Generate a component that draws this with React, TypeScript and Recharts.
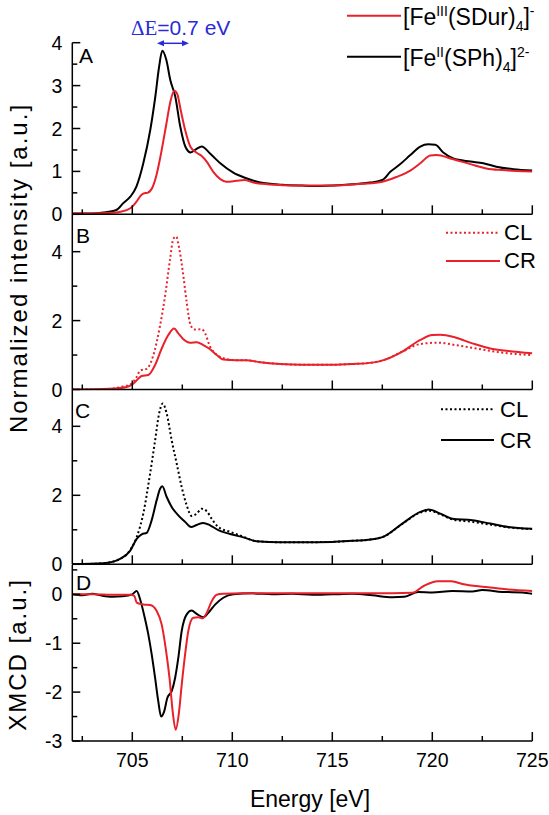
import React from 'react';
import { LineChart, Line, XAxis, YAxis } from 'recharts';

const W = 549;
const H = 815;
const FONT = '"Liberation Sans", Arial, Helvetica, sans-serif';
const RED = '#e8212b';
const BLUE = '#2a2ad8';
const PLOT_RIGHT = 532.3;
const PLOT_LEFT = 72.3;
const XAXIS_H = 30;

// ---- shared x ticks (eV) ----
const xTicks = [702.5, 705, 707.5, 710, 712.5, 715, 717.5, 720, 722.5, 725];

// ---- Panel A: [Fe(III)(SDur)4]- (red) and [Fe(II)(SPh)4]2- (black) ----
const aRedE = [702, 703, 703.8, 704.4, 704.9, 705.2, 705.45, 705.6, 705.75, 706.0, 706.2, 706.45, 706.7, 706.9, 707.1, 707.25, 707.42, 707.64, 707.9, 708.2, 708.47, 708.72, 709.05, 709.4, 709.7, 710.2, 710.6, 711.05, 711.5, 712.5, 713.5, 714.5, 715.5, 716.5, 717.5, 718.2, 718.9, 719.4, 719.9, 720.2, 721.0, 721.9, 722.7, 723.5, 724.2, 725];
const aRedV = [0.02, 0.02, 0.03, 0.06, 0.14, 0.29, 0.45, 0.49, 0.50, 0.62, 0.90, 1.45, 2.10, 2.62, 2.88, 2.80, 2.43, 1.97, 1.58, 1.44, 1.36, 1.23, 0.99, 0.82, 0.76, 0.78, 0.80, 0.74, 0.71, 0.68, 0.67, 0.67, 0.68, 0.71, 0.76, 0.87, 1.02, 1.19, 1.37, 1.38, 1.29, 1.17, 1.07, 1.03, 1.01, 1.00];
const aBlackE = [702, 703, 703.55, 704.2, 704.55, 704.9, 705.2, 705.55, 705.9, 706.15, 706.34, 706.5, 706.7, 706.9, 707.15, 707.4, 707.65, 707.92, 708.2, 708.47, 708.9, 709.4, 710.05, 710.7, 711.4, 712.5, 713.5, 714.4, 716.0, 716.9, 717.5, 717.9, 718.4, 718.9, 719.4, 719.8, 720.15, 720.55, 721.05, 721.9, 722.55, 723.2, 724.05, 725];
const aBlackV = [0.02, 0.02, 0.04, 0.10, 0.26, 0.41, 0.64, 1.19, 1.97, 2.74, 3.44, 3.81, 3.60, 3.13, 2.74, 2.04, 1.58, 1.44, 1.52, 1.58, 1.41, 1.19, 0.97, 0.84, 0.74, 0.69, 0.67, 0.66, 0.70, 0.74, 0.80, 0.99, 1.17, 1.38, 1.58, 1.63, 1.62, 1.44, 1.30, 1.23, 1.19, 1.11, 1.05, 1.02];

// ---- Panel B: Fe(III) CL (dotted) / CR (solid) ----
const bClE = [702, 703.9, 704.4, 704.97, 705.2, 705.4, 705.72, 706.05, 706.39, 706.64, 706.89, 707.05, 707.19, 707.35, 707.55, 707.72, 707.92, 708.14, 708.47, 708.64, 708.89, 709.14, 709.55, 710.2, 710.7, 711.4, 712.4, 713.5, 715.0, 716.0, 717.0, 717.6, 718.5, 719.4, 720.3, 721.15, 722.0, 722.9, 723.8, 725];
const bClV = [0.0, 0.02, 0.07, 0.17, 0.35, 0.55, 0.60, 0.99, 1.86, 2.72, 3.79, 4.37, 4.44, 4.08, 3.31, 2.53, 1.86, 1.74, 1.75, 1.63, 1.24, 1.05, 0.91, 0.85, 0.85, 0.79, 0.74, 0.72, 0.72, 0.74, 0.78, 0.86, 1.10, 1.32, 1.36, 1.29, 1.21, 1.12, 1.05, 1.00];
const bCrE = [702, 703.9, 704.72, 705.05, 705.47, 705.8, 706.14, 706.47, 706.8, 707.09, 707.3, 707.55, 707.89, 708.22, 708.55, 708.89, 709.22, 709.55, 710.2, 710.7, 711.4, 712.4, 713.5, 715.0, 716.0, 717.0, 717.6, 718.5, 719.4, 720.0, 720.4, 721.15, 722.0, 722.9, 723.8, 725];
const bCrV = [0.0, 0.02, 0.07, 0.17, 0.39, 0.42, 0.71, 1.19, 1.58, 1.77, 1.63, 1.46, 1.36, 1.37, 1.29, 1.17, 1.00, 0.87, 0.85, 0.85, 0.79, 0.74, 0.72, 0.72, 0.74, 0.78, 0.86, 1.10, 1.44, 1.58, 1.59, 1.51, 1.34, 1.19, 1.12, 1.05];

// ---- Panel C: Fe(II) CL (dotted) / CR (solid) ----
const cClE = [702, 703.55, 704.39, 704.89, 705.22, 705.55, 705.89, 706.14, 706.34, 706.52, 706.72, 706.97, 707.22, 707.47, 707.72, 707.97, 708.22, 708.47, 708.72, 708.97, 709.3, 709.89, 710.55, 711.2, 712.4, 713.5, 715.0, 716.0, 716.8, 717.6, 718.5, 719.4, 719.85, 720.4, 721.0, 722.0, 722.9, 723.8, 725];
const cClV = [0.0, 0.03, 0.16, 0.41, 0.79, 1.47, 2.63, 3.59, 4.37, 4.66, 4.37, 3.59, 2.92, 2.24, 1.71, 1.40, 1.47, 1.61, 1.54, 1.32, 1.08, 0.94, 0.80, 0.67, 0.64, 0.64, 0.65, 0.68, 0.71, 0.81, 1.17, 1.50, 1.55, 1.45, 1.30, 1.23, 1.15, 1.07, 1.02];
const cCrE = [702, 703.55, 704.39, 704.89, 705.22, 705.47, 705.72, 705.97, 706.22, 706.39, 706.5, 706.72, 706.97, 707.3, 707.64, 707.94, 708.22, 708.55, 708.89, 709.3, 709.89, 710.55, 711.2, 712.4, 713.5, 715.0, 716.0, 716.8, 717.6, 718.5, 719.4, 719.83, 720.4, 721.0, 722.0, 722.9, 723.8, 725];
const cCrV = [0.0, 0.03, 0.16, 0.39, 0.74, 0.87, 0.91, 1.28, 1.86, 2.19, 2.26, 1.95, 1.66, 1.42, 1.23, 1.08, 1.14, 1.20, 1.13, 0.99, 0.88, 0.78, 0.67, 0.64, 0.64, 0.65, 0.68, 0.71, 0.81, 1.18, 1.52, 1.59, 1.47, 1.32, 1.28, 1.18, 1.08, 1.03];

// ---- Panel D: XMCD ----
const dRedE = [702, 703, 704, 704.9, 705.1, 705.22, 705.55, 705.89, 706.22, 706.47, 706.69, 706.86, 707.02, 707.17, 707.32, 707.47, 707.64, 707.8, 708.05, 708.3, 708.52, 708.72, 708.97, 709.22, 709.55, 710.5, 712, 714, 716, 718, 719, 719.57, 720.27, 720.97, 721.5, 722.65, 723.8, 725];
const dRedV = [0.0, 0.0, -0.01, -0.01, -0.03, -0.17, -0.21, -0.22, -0.34, -0.62, -1.16, -1.71, -2.40, -2.77, -2.46, -1.85, -1.23, -0.75, -0.48, -0.47, -0.49, -0.38, -0.14, -0.01, 0.01, 0.02, 0.02, 0.02, 0.02, 0.02, 0.03, 0.17, 0.27, 0.27, 0.21, 0.15, 0.10, 0.07];
const dBlackE = [702, 702.5, 703, 703.5, 704, 704.5, 705.0, 705.22, 705.39, 705.64, 705.8, 705.97, 706.14, 706.3, 706.44, 706.59, 706.75, 706.97, 707.14, 707.3, 707.47, 707.72, 707.97, 708.22, 708.55, 708.8, 709.14, 709.55, 710.05, 711, 712, 713, 714, 715, 716, 717, 718, 718.6, 719.3, 720, 721, 722, 722.5, 723.5, 724.5, 725];
const dBlackV = [0.0, -0.02, 0.01, -0.03, -0.05, -0.04, 0.0, 0.07, -0.10, -0.51, -0.82, -1.23, -1.71, -2.19, -2.50, -2.40, -2.12, -1.98, -1.71, -1.30, -0.75, -0.41, -0.33, -0.40, -0.47, -0.38, -0.21, -0.07, 0.0, 0.02, 0.0, 0.01, -0.01, 0.0, 0.01, -0.02, -0.06, -0.05, 0.05, 0.04, 0.07, 0.06, 0.09, 0.05, 0.04, 0.01];

type Series = { key: string; e: number[]; v: number[]; color: string; dash?: string };

function buildRows(series: Series[]) {
  const map = new Map<number, any>();
  series.forEach((s) => {
    s.e.forEach((e, i) => {
      const row = map.get(e) || { e };
      row[s.key] = s.v[i];
      map.set(e, row);
    });
  });
  return Array.from(map.values()).sort((a, b) => a.e - b.e);
}

const XTick = (props: any) => {
  const { x, y, payload, showLabel } = props;
  const v = payload.value;
  const major = Math.abs(v % 5) < 1e-6;
  return (
    <g>
      <line x1={x} x2={x} y1={y} y2={y - (major ? 9 : 5)} stroke="#000" strokeWidth={1.5} />
      {showLabel && major ? (
        <text x={x} y={y + 25.7} textAnchor="middle" fontSize={19.5} fontFamily={FONT} fill="#000">
          {v}
        </text>
      ) : null}
    </g>
  );
};

const YTick = (props: any) => {
  const { x, y, payload, labels } = props;
  const v = payload.value;
  const major = labels.includes(v);
  return (
    <g>
      <line x1={x} x2={x + (major ? 8 : 5)} y1={y} y2={y} stroke="#000" strokeWidth={1.5} />
      {major ? (
        <text x={x - 10} y={y} dy="0.36em" textAnchor="end" fontSize={19.5} fontFamily={FONT} fill="#000">
          {String(v)}
        </text>
      ) : null}
    </g>
  );
};

type PanelProps = {
  top: number;
  bottom: number;
  domain: [number, number];
  yTicks: number[];
  yLabels: number[];
  showX: boolean;
  series: Series[];
};

function Panel({ top, bottom, domain, yTicks, yLabels, showX, series }: PanelProps) {
  const rows = buildRows(series);
  return (
    <div style={{ position: 'absolute', left: 0, top: 0 }}>
      <LineChart
        width={W}
        height={H}
        data={rows}
        margin={{ top, bottom: H - bottom - XAXIS_H, left: 0, right: W - PLOT_RIGHT }}
      >
        <XAxis
          type="number"
          dataKey="e"
          domain={[702, 725]}
          ticks={xTicks}
          interval={0}
          height={XAXIS_H}
          tickSize={0}
          tickMargin={0}
          tickLine={false}
          allowDataOverflow
          stroke="#000"
          axisLine={{ stroke: '#000', strokeWidth: 1.5 }}
          tick={(p: any) => <XTick {...p} showLabel={showX} />}
        />
        <YAxis
          type="number"
          domain={domain}
          ticks={yTicks}
          interval={0}
          width={PLOT_LEFT}
          tickSize={0}
          tickMargin={0}
          tickLine={false}
          allowDataOverflow
          stroke="#000"
          axisLine={{ stroke: '#000', strokeWidth: 1.5 }}
          tick={(p: any) => <YTick {...p} labels={yLabels} />}
        />
        {series.map((s) => (
          <Line
            key={s.key}
            dataKey={s.key}
            type="monotone"
            stroke={s.color}
            strokeWidth={2}
            strokeDasharray={s.dash}
            dot={false}
            activeDot={false}
            connectNulls
            isAnimationActive={false}
          />
        ))}
      </LineChart>
    </div>
  );
}

const txt = { fontFamily: FONT, fill: '#000' } as const;

export default function App() {
  return (
    <div style={{ position: 'absolute', left: 0, top: 0, width: W, height: H, background: '#fff', overflow: 'hidden' }}>
      <Panel
        top={42.7}
        bottom={214.3}
        domain={[0, 4]}
        yTicks={[0, 0.5, 1, 1.5, 2, 2.5, 3, 3.5, 4]}
        yLabels={[0, 1, 2, 3, 4]}
        showX={false}
        series={[
          { key: 'black', e: aBlackE, v: aBlackV, color: '#000' },
          { key: 'red', e: aRedE, v: aRedV, color: RED },
        ]}
      />
      <Panel
        top={214.3}
        bottom={389.5}
        domain={[0, 5.085]}
        yTicks={[0, 1, 2, 3, 4]}
        yLabels={[0, 2, 4]}
        showX={false}
        series={[
          { key: 'cl', e: bClE, v: bClV, color: RED, dash: '2 2.5' },
          { key: 'cr', e: bCrE, v: bCrV, color: RED },
        ]}
      />
      <Panel
        top={389.5}
        bottom={564.3}
        domain={[0, 5.067]}
        yTicks={[0, 1, 2, 3, 4]}
        yLabels={[0, 2, 4]}
        showX={false}
        series={[
          { key: 'cl', e: cClE, v: cClV, color: '#000', dash: '2 2.5' },
          { key: 'cr', e: cCrE, v: cCrV, color: '#000' },
        ]}
      />
      <Panel
        top={565}
        bottom={741}
        domain={[-3, 0.6]}
        yTicks={[-3, -2.5, -2, -1.5, -1, -0.5, 0, 0.5]}
        yLabels={[-3, -2, -1, 0]}
        showX={true}
        series={[
          { key: 'black', e: dBlackE, v: dBlackV, color: '#000' },
          { key: 'red', e: dRedE, v: dRedV, color: RED },
        ]}
      />
      <svg width={W} height={H} style={{ position: 'absolute', left: 0, top: 0, pointerEvents: 'none' }}>
        {/* Delta E annotation */}
        <text x={131} y={35} fontSize={21} fontFamily={FONT} fill={BLUE}>
          <tspan fontFamily='"Liberation Serif", "Times New Roman", serif'>ΔE</tspan>=0.7 eV
        </text>
        <line x1={161} x2={185} y1={43.3} y2={43.3} stroke={BLUE} strokeWidth={1.5} />
        <polygon points="157,43.3 164,40.3 164,46.3" fill={BLUE} />
        <polygon points="189,43.3 182,40.3 182,46.3" fill={BLUE} />

        {/* Panel letters */}
        <text x={79} y={63} fontSize={21} {...txt}>A</text>
        <text x={76} y={243} fontSize={21} {...txt}>B</text>
        <text x={75} y={418} fontSize={21} {...txt}>C</text>
        <text x={76} y={590} fontSize={21} {...txt}>D</text>

        {/* Legend A */}
        <line x1={347} x2={401} y1={15.7} y2={15.7} stroke={RED} strokeWidth={2} />
        <text x={403} y={25} fontSize={23} {...txt}>
          [Fe<tspan fontSize={14} dy={-9}>III</tspan>
          <tspan dy={9}>(SDur)</tspan>
          <tspan fontSize={14} dy={6}>4</tspan>
          <tspan dy={-6}>]</tspan>
          <tspan fontSize={14} dy={-9}>-</tspan>
        </text>
        <line x1={347} x2={401} y1={56.7} y2={56.7} stroke="#000" strokeWidth={2} />
        <text x={403} y={66} fontSize={23} {...txt}>
          [Fe<tspan fontSize={14} dy={-9}>II</tspan>
          <tspan dy={9}>(SPh)</tspan>
          <tspan fontSize={14} dy={6}>4</tspan>
          <tspan dy={-6}>]</tspan>
          <tspan fontSize={14} dy={-9}>2-</tspan>
        </text>

        {/* Legend B */}
        <line x1={446} x2={500} y1={232.7} y2={232.7} stroke={RED} strokeWidth={2} strokeDasharray="2 2.5" />
        <text x={504} y={240} fontSize={22} {...txt}>CL</text>
        <line x1={446} x2={500} y1={261} y2={261} stroke={RED} strokeWidth={2} />
        <text x={504} y={268} fontSize={22} {...txt}>CR</text>

        {/* Legend C */}
        <line x1={441} x2={494} y1={409.3} y2={409.3} stroke="#000" strokeWidth={2} strokeDasharray="2 2.5" />
        <text x={500} y={417} fontSize={22} {...txt}>CL</text>
        <line x1={441} x2={494} y1={440} y2={440} stroke="#000" strokeWidth={2} />
        <text x={500} y={448} fontSize={22} {...txt}>CR</text>

        {/* Axis titles */}
        <text x={310} y={807} fontSize={23} textAnchor="middle" {...txt}>Energy [eV]</text>
        <g transform="translate(27 268) rotate(-90)">
          <text x={0} y={0} fontSize={24} letterSpacing={2} textAnchor="middle" {...txt}>Normalized intensity [a.u.]</text>
        </g>
        <g transform="translate(26 654.5) rotate(-90)">
          <text x={0} y={0} fontSize={24} letterSpacing={2} textAnchor="middle" {...txt}>XMCD [a.u.]</text>
        </g>
      </svg>
    </div>
  );
}
